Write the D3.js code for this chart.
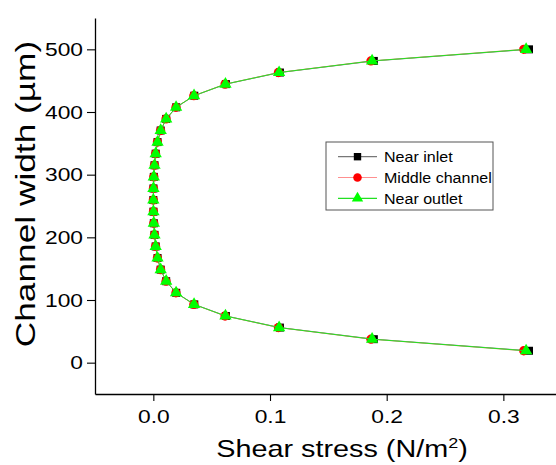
<!DOCTYPE html>
<meta charset="utf-8">
<style>
body { margin: 0; background: #fff; }
text { font-family: "Liberation Sans", Arial, sans-serif; fill: #000; }
</style>
<body>
<script src="https://cdn.jsdelivr.net/npm/d3@7"></script>
<script>

// channel width positions (µm), bottom wall to top wall
var widths = [19, 37.5, 56, 74.5, 93, 111.5, 130, 148.5, 167, 185.5, 204, 222.5, 241,
  259.5, 278, 296.5, 315, 333.5, 352, 370.5, 389, 407.5, 426, 444.5, 463, 481.5, 500];

// shear stress (N/m2) per series
var inlet = [0.322, 0.189, 0.1085, 0.0622, 0.0351, 0.0196, 0.011, 0.0063, 0.0036, 0.002, 0.001, 0.0004, 0.0001,
  0.0, 0.0001, 0.0004, 0.001, 0.002, 0.0036, 0.0063, 0.011, 0.0196, 0.0351, 0.0622, 0.1085, 0.189, 0.322];
var middle = [0.3175, 0.1865, 0.1072, 0.0615, 0.0347, 0.0194, 0.0109, 0.0062, 0.0035, 0.0019, 0.001, 0.0004, 0.0001,
  0.0, 0.0001, 0.0004, 0.001, 0.0019, 0.0035, 0.0062, 0.0109, 0.0194, 0.0347, 0.0615, 0.1072, 0.1865, 0.3175];
var outlet = [0.3195, 0.1875, 0.1078, 0.0618, 0.0349, 0.0195, 0.011, 0.0063, 0.0036, 0.002, 0.001, 0.0004, 0.0001,
  0.0, 0.0001, 0.0004, 0.001, 0.002, 0.0036, 0.0063, 0.011, 0.0195, 0.0349, 0.0618, 0.1078, 0.1875, 0.3195];

var seriesNames = ["Near inlet", "Middle channel", "Near outlet"];

var xMajor = [0, 0.1, 0.2, 0.3],
    xMinor = [-0.05, 0.05, 0.15, 0.25, 0.35],
    yMajor = [0, 100, 200, 300, 400, 500],
    yMinor = [-50, 50, 150, 250, 350, 450, 550];

var w = 556,
    h = 465,
    sx = 1.2; // the reference glyphs are a bit wide

var x = d3.scaleLinear().domain([-0.05, 0.35]).range([95, 561.7]),
    y = d3.scaleLinear().domain([-50, 550]).range([394, 18]);

var series = [
  {name: seriesNames[0], values: inlet, line: "#777", fill: "#000", shape: d3.symbolSquare, size: 64},
  {name: seriesNames[1], values: middle, line: "#ff8f8f", fill: "#ff0000", shape: d3.symbolCircle, size: 68},
  {name: seriesNames[2], values: outlet, line: "#22e022", fill: "#00ff00", shape: d3.symbolTriangle, size: 66}
];

var svg = d3.select("body").append("svg")
    .attr("width", w)
    .attr("height", h);

// axes
var gx = svg.append("g").attr("transform", "translate(0," + y.range()[0] + ")");
gx.call(d3.axisBottom(x).tickValues(xMinor).tickSize(4).tickFormat("").tickSizeOuter(0));
gx.call(d3.axisBottom(x).tickValues(xMajor).tickSize(7).tickPadding(9).tickSizeOuter(0)
    .tickFormat(d3.format(".1f")));

var gy = svg.append("g").attr("transform", "translate(" + x.range()[0] + ",0)");
gy.call(d3.axisLeft(y).tickValues(yMinor).tickSize(4).tickFormat("").tickSizeOuter(0));
gy.call(d3.axisLeft(y).tickValues(yMajor).tickSize(8).tickPadding(2).tickSizeOuter(0));

svg.selectAll(".domain").attr("stroke", "#000").attr("stroke-width", 1.3);
svg.selectAll(".tick line").attr("stroke", "#000").attr("stroke-width", 1.1);
svg.selectAll(".tick text")
    .style("font-size", "19px")
    .style("font-family", "'Liberation Sans', Arial, sans-serif")
    .attr("transform", "scale(" + sx + ",1)");

// axis titles
var xt = svg.append("text")
    .attr("transform", "translate(342,457) scale(" + sx + ",1)")
    .attr("text-anchor", "middle")
    .style("font-size", "24px")
    .text("Shear stress (N/m");
xt.append("tspan").attr("dy", -9).style("font-size", "15px").text("2");
xt.append("tspan").attr("dy", 9).text(")");

svg.append("text")
    .attr("transform", "translate(35,194) rotate(-90) scale(1.26,1)")
    .attr("text-anchor", "middle")
    .style("font-size", "28px")
    .text("Channel width (µm)");

// series: line then markers, outlet drawn last
var line = d3.line()
    .x(function(d) { return x(d[0]); })
    .y(function(d) { return y(d[1]); });

series.forEach(function(s) {
  var pts = s.values.map(function(v, i) { return [v, widths[i]]; });
  svg.append("path")
      .datum(pts)
      .attr("d", line)
      .attr("fill", "none")
      .attr("stroke", s.line)
      .attr("stroke-width", 1);
  svg.append("g").selectAll("path")
      .data(pts)
    .enter().append("path")
      .attr("transform", function(d) { return "translate(" + x(d[0]) + "," + y(d[1]) + ")"; })
      .attr("d", d3.symbol().type(s.shape).size(s.size))
      .attr("fill", s.fill);
});

// legend
var lg = svg.append("g").attr("transform", "translate(326,142)");
lg.append("rect")
    .attr("width", 167)
    .attr("height", 68)
    .attr("fill", "#fff")
    .attr("stroke", "#555")
    .attr("stroke-width", 1);

series.forEach(function(s, i) {
  var ry = 14.7 + i * 20.8;
  lg.append("line")
      .attr("x1", 12).attr("x2", 51)
      .attr("y1", ry).attr("y2", ry)
      .attr("stroke", s.line)
      .attr("stroke-width", 1.2);
  lg.append("path")
      .attr("transform", "translate(31.5," + ry + ")")
      .attr("d", d3.symbol().type(s.shape).size(s.size * 0.85))
      .attr("fill", s.fill);
  lg.append("text")
      .attr("transform", "translate(58," + (ry + 5.3) + ") scale(1.07,1)")
      .style("font-size", "15px")
      .text(s.name);
});

</script>
